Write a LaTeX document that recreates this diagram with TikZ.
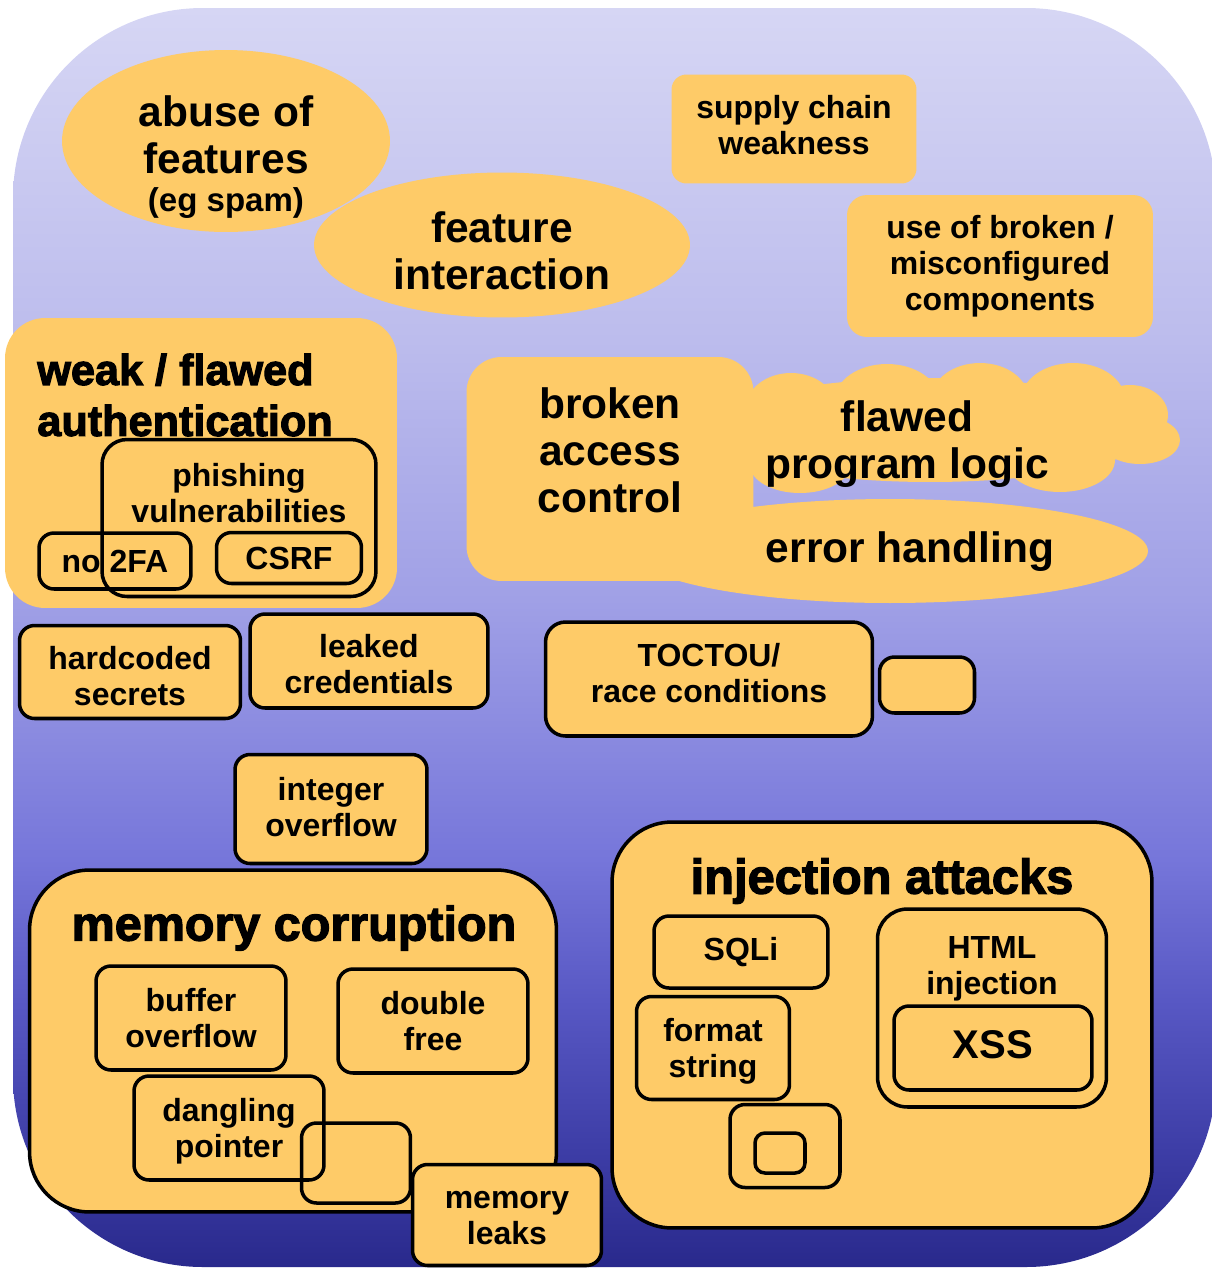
\documentclass[tikz,border=0pt]{standalone}
\usepackage{fontspec}
\setmainfont{Liberation Sans}
\newfontfamily\heavyfont{Liberation Sans Bold}[FakeBold=2.5]
\usepackage{tikz}
\usetikzlibrary{shapes.geometric}

\definecolor{boxorange}{HTML}{FECB68}
\definecolor{bgtop}{HTML}{D6D6F4}
\definecolor{bgone}{HTML}{BDBDED}
\definecolor{bgtwo}{HTML}{A0A0E6}
\definecolor{bgthree}{HTML}{7676DA}
\definecolor{bgfour}{HTML}{5858C4}
\definecolor{bgfive}{HTML}{3D3DA6}
\definecolor{bgbottom}{HTML}{29298C}
\pgfdeclareverticalshading{bgfade}{100bp}{color(0bp)=(bgbottom); color(25bp)=(bgbottom);
  color(29.6bp)=(bgfive); color(35.6bp)=(bgfour); color(41.2bp)=(bgthree);
  color(51.5bp)=(bgtwo); color(62.2bp)=(bgone); color(75bp)=(bgtop); color(100bp)=(bgtop)}

\begin{document}
\begin{tikzpicture}[
    % GLOBAL CFG
    x=0.02cm, y=-0.02cm,
    % Styles
    blob/.style={% orange areas without outline
        fill=boxorange,
        inner sep=0pt,
        },
    box/.style={% small outlined boxes
        rectangle,
        rounded corners=3mm,
        draw,
        line width=2pt,
        inner sep=0pt,
        align=center,
        font=\bfseries\fontsize{18.2}{20.5}\selectfont,
        },
    groupbox/.style={% the two big outlined groups
        box,
        fill=boxorange,
        rounded corners=12mm,
        },
    smalltxt/.style={% normal labels
        align=center,
        font=\bfseries\fontsize{18.2}{20.5}\selectfont,
        },
    bigtxt/.style={% labels of the large areas
        align=center,
        font=\bfseries\fontsize{24.2}{26.7}\selectfont,
        },
    headtxt/.style={% titles of the groups
        inner sep=0pt,
        font=\heavyfont\fontsize{27.6}{30}\selectfont,
        },
    ]

\useasboundingbox (0,0) rectangle (1212,1269);
% Background
\shade[shading=bgfade, rounded corners=38mm] (13,8) rectangle (1216,1267);

% Top row
\node[blob, ellipse, minimum width=6.56cm, minimum height=3.64cm] (abuse) at (226,141) {};
\node[bigtxt] (abusetxt) at (226,157) {abuse of\\features\\[-5pt]{\fontsize{18.8}{20}\selectfont (eg spam)}};
\node[blob, ellipse, minimum width=7.52cm, minimum height=2.9cm] (interact) at (502,245) {};
\node[bigtxt] (interacttxt) at (502,251) {feature\\interaction};
\node[blob, rounded corners=3mm, minimum width=4.9cm, minimum height=2.18cm] (supply) at (794,129) {};
\node[smalltxt] (supplytxt) at (794,125) {supply chain\\weakness};
\node[blob, rounded corners=4mm, minimum width=6.12cm, minimum height=2.84cm, smalltxt] (compo) at (1000,266) {use of broken /\\misconfigured\\components};

% Authentication
\node[blob, rounded corners=8mm, minimum width=7.84cm, minimum height=5.8cm] (auth) at (201,463) {};
\node[headtxt, anchor=west, align=left, font=\heavyfont\fontsize{24.6}{29}\selectfont] (authtxt) at (37,395) {weak / flawed\\authentication};
\node[box, minimum width=5.48cm, minimum height=3.14cm, rounded corners=5mm] (phish) at (239,518) {};
\node[smalltxt] (phishtxt) at (239,493) {phishing\\vulnerabilities};
\node[box, minimum width=3.04cm, minimum height=1.12cm] (notwofa) at (115,561) {no 2FA};
\node[box, minimum width=2.9cm, minimum height=1.02cm] (csrf) at (289,558) {\raisebox{-3pt}{CSRF}};

% Access control, logic and errors
% the cloud is a bunch of puffs
\foreach \cx/\cy/\rx/\ry in {930/430/4.5/1.04, 791/410/0.92/0.74, 887/400/1.04/0.72,
    980/398/0.96/0.7, 1073/400/1.04/0.74, 1130/415/0.76/0.6, 1140/440/0.8/0.48,
    1060/460/1.1/0.64, 800/465/1.0/0.56}
    \fill[boxorange] (\cx,\cy) ellipse [x radius=\rx cm, y radius=\ry cm];
\node[blob, ellipse, minimum width=10.32cm, minimum height=2.08cm] (errors) at (890,551) {};
\node[blob, rounded corners=7mm, minimum width=5.74cm, minimum height=4.48cm] (access) at (610,469) {};
\node[bigtxt] (accesstxt) at (610,450) {broken\\access\\control};
\node[bigtxt] (logictxt) at (907,444) {flawed\\program logic};
\node[bigtxt] (errorstxt) at (910,552) {error handling};

% Middle row
\node[box, fill=boxorange, minimum width=4.42cm, minimum height=1.86cm] (secrets) at (130,672) {};
\node[smalltxt] (secretstxt) at (130,676) {hardcoded\\secrets};
\node[box, fill=boxorange, minimum width=4.76cm, minimum height=1.88cm] (leaked) at (369,661) {};
\node[smalltxt] (leakedtxt) at (369,664) {leaked\\credentials};
\node[box, fill=boxorange, minimum width=6.54cm, minimum height=2.28cm, rounded corners=4mm] (toctou) at (709,679) {};
\node[smalltxt] (toctoutxt) at (709,673) {TOCTOU/\\race conditions};
\node[box, fill=boxorange, minimum width=1.9cm, minimum height=1.12cm] (raceextra) at (927,685) {};
\node[box, fill=boxorange, minimum width=3.84cm, minimum height=2.18cm] (intover) at (331,809) {};
\node[smalltxt] (intovertxt) at (331,807) {integer\\overflow};

% Memory corruption
\node[groupbox, minimum width=10.54cm, minimum height=6.84cm] (memory) at (293,1041) {};
\node[headtxt] (memorytxt) at (294,928) {memory corruption};
\node[box, minimum width=3.8cm, minimum height=2.08cm] (bufover) at (191,1018) {buffer\\overflow};
\node[box, minimum width=3.8cm, minimum height=2.08cm] (dblfree) at (433,1021) {double\\free};
\node[box, minimum width=3.8cm, minimum height=2.08cm] (dangling) at (229,1128) {};
\node[smalltxt] (danglingtxt) at (229,1131) {dangling\\pointer};
\node[box, minimum width=2.18cm, minimum height=1.6cm] (memextra) at (356,1163) {};
\node[box, fill=boxorange, minimum width=3.78cm, minimum height=2.02cm] (leaks) at (507,1215) {};
\node[smalltxt] (leakstxt) at (507,1218) {memory\\leaks};

% Injection attacks
\node[groupbox, minimum width=10.8cm, minimum height=8.12cm] (inject) at (882,1025) {};
\node[headtxt, font=\heavyfont\fontsize{27.8}{30}\selectfont] (injecttxt) at (882,881) {injection attacks};
\node[box, minimum width=3.48cm, minimum height=1.44cm] (sqli) at (741,952) {SQLi};
\node[box, minimum width=3.06cm, minimum height=2.06cm] (fmtstr) at (713,1048) {};
\node[smalltxt] (fmtstrtxt) at (713,1051) {format\\string};
\node[box, minimum width=4.58cm, minimum height=3.96cm, rounded corners=6mm] (htmlinj) at (992,1008) {};
\node[smalltxt] (htmltxt) at (992,969) {HTML\\injection};
\node[box, minimum width=3.96cm, minimum height=1.68cm] (xss) at (993,1048) {};
\node[font=\bfseries\fontsize{22.8}{26}\selectfont] (xsstxt) at (993,1045) {XSS};
\node[box, minimum width=2.2cm, minimum height=1.66cm] (injextra) at (785,1146) {};
\node[box, minimum width=1cm, minimum height=0.8cm, rounded corners=2mm] (injinner) at (780,1153) {};

\end{tikzpicture}
\end{document}
